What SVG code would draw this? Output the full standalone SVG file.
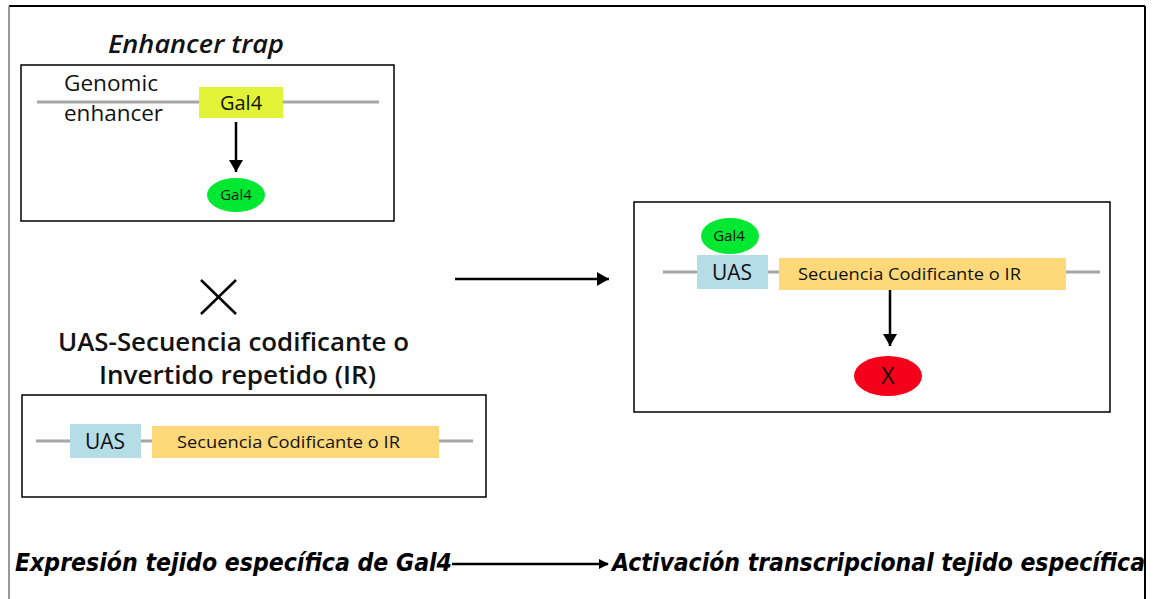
<svg xmlns="http://www.w3.org/2000/svg" width="1156" height="599" viewBox="0 0 1156 599">
<defs>
<marker id="ah" markerWidth="10" markerHeight="10" refX="9" refY="5" orient="auto" markerUnits="userSpaceOnUse">
<path d="M0,0 L10,5 L0,10 z" fill="#000"/>
</marker>
<marker id="ahv" markerWidth="12" markerHeight="14" refX="12" refY="7" orient="auto" markerUnits="userSpaceOnUse">
<path d="M0,0 L12,7 L0,14 z" fill="#000"/>
</marker>
</defs>
<style>
.box{fill:#fff;stroke:#000;stroke-width:1.5}
.dna{stroke:#a6a6a6;stroke-width:3}
.t{font-family:"Open Sans","Noto Sans",sans-serif;fill:#111}
.ti{font-family:"Open Sans","Noto Sans",sans-serif;font-style:italic;font-weight:600;fill:#111}
.bot{font-family:"DejaVu Sans Condensed","DejaVu Sans",sans-serif;font-style:oblique;font-weight:bold;font-stretch:condensed;fill:#000}
.uas{fill:#b5dde8}
.seq{fill:#fed97a}
.gal{fill:#00e832}
.conn{stroke:#000;stroke-width:2.5;fill:none}
</style>
<rect width="1156" height="599" fill="#fff"/>
<g id="frame">
<line x1="9" y1="6" x2="1145" y2="6" stroke="#000" stroke-width="2"/>
<line x1="9" y1="6" x2="9" y2="599" stroke="#777" stroke-width="1.5"/>
<line x1="1145" y1="6" x2="1145" y2="599" stroke="#000" stroke-width="2"/>
</g>
<g id="title-enhancer">
<text class="ti" x="108" y="53" font-size="25" textLength="176" lengthAdjust="spacingAndGlyphs">Enhancer trap</text>
</g>
<g id="enhancer-box">
<rect class="box" x="21" y="65" width="373" height="156"/>
<line class="dna" x1="37" y1="102" x2="379" y2="102"/>
<rect x="199" y="87" width="84" height="31" fill="#e2f236"/>
<text class="t" x="241" y="110" font-size="20" text-anchor="middle">Gal4</text>
<text class="t" x="64" y="91" font-size="21" textLength="94" lengthAdjust="spacingAndGlyphs">Genomic</text>
<text class="t" x="64" y="121" font-size="21" textLength="99" lengthAdjust="spacingAndGlyphs">enhancer</text>
</g>
<g id="gal4-protein-1">
<ellipse class="gal" cx="236" cy="195" rx="29" ry="17"/>
<text class="t" x="236" y="200" font-size="15" text-anchor="middle">Gal4</text>
</g>
<g id="cross">
<line x1="201" y1="280" x2="236" y2="314" stroke="#000" stroke-width="2.5"/>
<line x1="236" y1="280" x2="201" y2="314" stroke="#000" stroke-width="2.5"/>
</g>
<g id="title-uas">
<text class="t" x="58" y="351" font-size="25" font-weight="600" textLength="351" lengthAdjust="spacingAndGlyphs">UAS-Secuencia codificante o</text>
<text class="t" x="99" y="384" font-size="25" font-weight="600" textLength="277" lengthAdjust="spacingAndGlyphs">Invertido repetido (IR)</text>
</g>
<g id="uas-box">
<rect class="box" x="22" y="395" width="464" height="102"/>
<line class="dna" x1="36" y1="441" x2="473" y2="441"/>
<rect class="uas" x="70" y="424" width="71" height="34"/>
<text class="t" x="105" y="449" font-size="21" text-anchor="middle">UAS</text>
<rect class="seq" x="152" y="426" width="287" height="32"/>
<text class="t" x="177" y="448" font-size="17" textLength="223" lengthAdjust="spacingAndGlyphs">Secuencia Codificante o IR</text>
</g>
<g id="result-box">
<rect class="box" x="634" y="202" width="476" height="210"/>
<line class="dna" x1="663" y1="272" x2="1100" y2="272"/>
<rect class="uas" x="697" y="255" width="71" height="34"/>
<text class="t" x="732" y="280" font-size="21" text-anchor="middle">UAS</text>
<rect class="seq" x="779" y="258" width="287" height="32"/>
<text class="t" x="798" y="280" font-size="17" textLength="223" lengthAdjust="spacingAndGlyphs">Secuencia Codificante o IR</text>
</g>
<g id="gal4-protein-2">
<ellipse class="gal" cx="730" cy="236" rx="29" ry="18"/>
<text class="t" x="729" y="241" font-size="15" text-anchor="middle">Gal4</text>
</g>
<g id="product-x">
<ellipse cx="888" cy="376" rx="34" ry="20" fill="#f5001a"/>
<text class="t" x="888" y="384" font-size="23" text-anchor="middle">X</text>
</g>
<g id="bottom-labels">
<text class="bot" x="15" y="571" font-size="24" textLength="437" lengthAdjust="spacingAndGlyphs">Expresión tejido específica de Gal4</text>
<text class="bot" x="612" y="571" font-size="24" textLength="533" lengthAdjust="spacingAndGlyphs">Activación transcripcional tejido específica</text>
</g>
<g id="connectors">
<line class="conn" x1="236" y1="122" x2="236" y2="172" marker-end="url(#ahv)"/>
<line class="conn" x1="455" y1="279" x2="609" y2="279" marker-end="url(#ahv)"/>
<line class="conn" x1="890" y1="290" x2="890" y2="346" marker-end="url(#ahv)"/>
<line class="conn" x1="452" y1="564" x2="608" y2="564" marker-end="url(#ah)"/>
</g>
</svg>
